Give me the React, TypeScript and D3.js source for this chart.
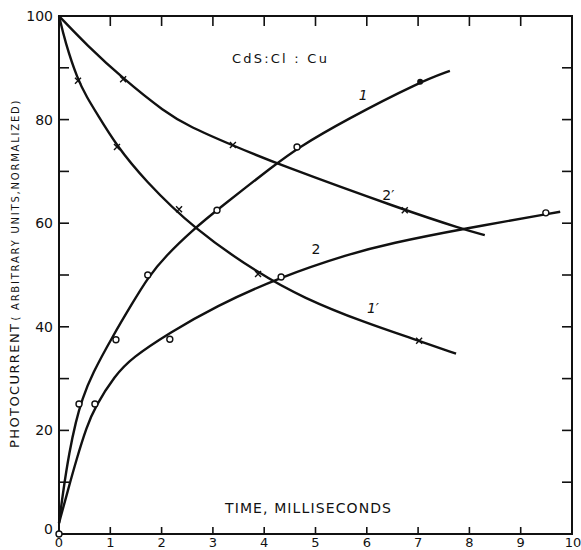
import React, { useEffect, useRef } from "react";
import * as d3 from "d3";

// values (time in ms, photocurrent normalized)
const curve1Line = [[0, 2.1], [0.08, 8.2], [0.2, 15.8], [0.33, 21.8], [0.45, 26], [0.64, 30.8], [1.06, 38.4], [1.42, 44.4], [1.74, 49.6], [2.07, 53.6], [2.63, 58.9], [3.11, 62.8], [4.21, 71.3], [4.65, 74.5], [5.58, 79.9], [7.04, 87.3], [7.62, 89.4]];
const curve1Pts = [[0.39, 25.1], [1.11, 37.5], [1.73, 50], [3.08, 62.5], [4.64, 74.7]];
const curve1Filled = [[7.04, 87.3]];
const originPt = [[0, 0]];

const curve2Line = [[0, 2.1], [0.17, 8.3], [0.34, 14.4], [0.54, 20.7], [0.7, 24.5], [1.09, 30.6], [1.42, 34], [2.15, 38.8], [3.04, 43.9], [4.31, 49.6], [5.67, 54.1], [6.45, 56.1], [7.86, 58.9], [9.77, 62.2]];
const curve2Pts = [[0.7, 25.1], [2.16, 37.6], [4.33, 49.6], [9.49, 62]];

const curve1pLine = [[0, 100], [0.12, 95], [0.36, 87.8], [0.55, 84.2], [0.73, 81.3], [1.12, 75], [1.66, 68.4], [2.63, 58.9], [3.89, 50.3], [4.76, 45.6], [5.93, 40.9], [7.02, 37.3], [7.74, 34.8]];
const curve1pPts = [[0.37, 87.5], [1.13, 74.7], [2.34, 62.7], [3.88, 50.2], [7.02, 37.3]];

const curve2pLine = [[0, 100], [0.54, 94.4], [1.25, 87.9], [2.07, 81.4], [2.55, 78.6], [3.37, 75.1], [4.21, 71.6], [6.74, 62.5], [7.86, 58.9], [8.3, 57.7]];
const curve2pPts = [[1.25, 87.8], [3.39, 75.1], [6.74, 62.5]];

const curveLabels = [
  { t: "1", x: 5.93, y: 84.7 },
  { t: "2\u2032", x: 6.42, y: 65.4 },
  { t: "2", x: 5.01, y: 55 },
  { t: "1\u2032", x: 6.12, y: 43.6 },
];

const xTicks = [0, 1, 2, 3, 4, 5, 6, 7, 8, 9, 10];
const yMinorTicks = [10, 20, 30, 40, 50, 60, 70, 80, 90];
const yLabels = [0, 20, 40, 60, 80, 100];

const W = 581, H = 550;
const margin = { left: 59, right: 9, top: 16, bottom: 16 };
const font = "'DejaVu Sans', sans-serif";

export default function App() {
  const ref = useRef<SVGSVGElement>(null);

  useEffect(() => {
    const svg = d3.select(ref.current);
    svg.selectAll("*").remove();

    const x = d3.scaleLinear().domain([0, 10]).range([margin.left, W - margin.right]);
    const y = d3.scaleLinear().domain([0, 100]).range([H - margin.bottom, margin.top]);

    const g = svg.append("g");

    // frame
    g.append("rect")
      .attr("x", x(0)).attr("y", y(100))
      .attr("width", x(10) - x(0)).attr("height", y(0) - y(100))
      .attr("fill", "none").attr("stroke", "#111").attr("stroke-width", 2);

    const tl = 10;
    // x ticks (bottom & top, inward)
    xTicks.slice(1, -1).forEach(t => {
      g.append("line").attr("x1", x(t)).attr("x2", x(t)).attr("y1", y(0)).attr("y2", y(0) - 7)
        .attr("stroke", "#111").attr("stroke-width", 1.6);
      g.append("line").attr("x1", x(t)).attr("x2", x(t)).attr("y1", y(100)).attr("y2", y(100) + tl)
        .attr("stroke", "#111").attr("stroke-width", 1.6);
    });
    // y ticks (left & right, inward)
    yMinorTicks.forEach(t => {
      g.append("line").attr("x1", x(0)).attr("x2", x(0) + tl).attr("y1", y(t)).attr("y2", y(t))
        .attr("stroke", "#111").attr("stroke-width", 1.6);
      g.append("line").attr("x1", x(10)).attr("x2", x(10) - tl).attr("y1", y(t)).attr("y2", y(t))
        .attr("stroke", "#111").attr("stroke-width", 1.6);
    });

    // tick labels
    xTicks.forEach(t => {
      g.append("text").attr("x", x(t) + (t === 10 ? 1 : 0)).attr("y", 547)
        .attr("text-anchor", "middle").attr("font-family", font).attr("font-size", 13)
        .attr("fill", "#111").text(t);
    });
    yLabels.forEach(t => {
      g.append("text").attr("x", 53).attr("y", y(t) + (t === 0 ? -5 : 0))
        .attr("dy", "0.36em").attr("text-anchor", "end").attr("font-family", font)
        .attr("font-size", 14).attr("fill", "#111").text(t);
    });

    // axis titles
    g.append("text").attr("x", 225).attr("y", 513)
      .attr("font-family", font).attr("font-size", 14).attr("fill", "#111")
      .attr("textLength", 166).attr("lengthAdjust", "spacing")
      .text("TIME, MILLISECONDS");

    const yt = g.append("text").attr("transform", "translate(19,448) rotate(-90)")
      .attr("font-family", font).attr("fill", "#111");
    yt.append("tspan").attr("font-size", 13).attr("textLength", 124).attr("lengthAdjust", "spacing")
      .text("PHOTOCURRENT");
    yt.append("tspan").attr("font-size", 10).attr("dx", 2).attr("textLength", 220).attr("lengthAdjust", "spacing")
      .text("( ARBITRARY UNITS,NORMALIZED)");

    g.append("text").attr("x", x(3.37)).attr("y", y(90.9))
      .attr("font-family", font).attr("font-size", 13).attr("fill", "#111")
      .attr("textLength", 95).attr("lengthAdjust", "spacing")
      .text("CdS:Cl : Cu");

    curveLabels.forEach(l => {
      g.append("text").attr("x", x(l.x)).attr("y", y(l.y)).attr("dy", "0.36em")
        .attr("text-anchor", "middle").attr("font-family", font).attr("font-size", 14)
        .attr("font-style", l.t.startsWith("1") ? "italic" : "normal")
        .attr("fill", "#111").text(l.t);
    });

    // curves
    const line = d3.line<number[]>().x(d => x(d[0])).y(d => y(d[1])).curve(d3.curveBasis);
    [curve1Line, curve2Line, curve1pLine, curve2pLine].forEach(c => {
      g.append("path").attr("d", line(c)).attr("fill", "none")
        .attr("stroke", "#111").attr("stroke-width", 2.4);
    });

    // open circle markers
    [...curve1Pts, ...curve2Pts, ...originPt].forEach(p => {
      g.append("circle").attr("cx", x(p[0])).attr("cy", y(p[1])).attr("r", 3)
        .attr("fill", "white").attr("stroke", "#111").attr("stroke-width", 1.4);
    });
    curve1Filled.forEach(p => {
      g.append("circle").attr("cx", x(p[0])).attr("cy", y(p[1])).attr("r", 3)
        .attr("fill", "#111");
    });
    // cross markers
    [...curve1pPts, ...curve2pPts].forEach(p => {
      const cx = x(p[0]), cy = y(p[1]);
      g.append("path").attr("d", `M${cx - 3},${cy - 3}L${cx + 3},${cy + 3}M${cx + 3},${cy - 3}L${cx - 3},${cy + 3}`)
        .attr("stroke", "#111").attr("stroke-width", 1.4);
    });
  }, []);

  return (
    <svg ref={ref} width={W} height={H}
      style={{ position: "absolute", left: 0, top: 0, background: "white" }} />
  );
}
